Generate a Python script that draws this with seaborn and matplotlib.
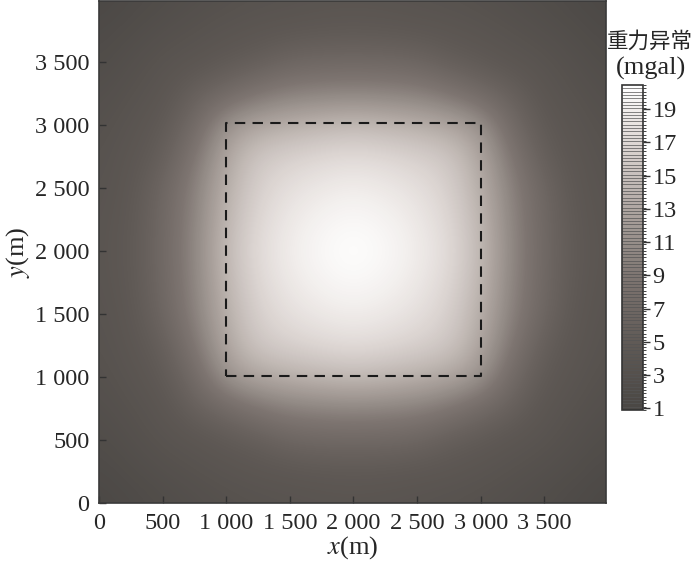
import numpy as np
import matplotlib
matplotlib.use("Agg")
import matplotlib.pyplot as plt
from matplotlib.colors import LinearSegmentedColormap, BoundaryNorm, Normalize
from matplotlib.cm import ScalarMappable
import seaborn as sns

# grid node coordinates (m), 250 m spacing
x_nodes = [0, 250, 500, 750, 1000, 1250, 1500, 1750, 2000,
           2250, 2500, 2750, 3000, 3250, 3500, 3750, 4000]
y_nodes = [0, 250, 500, 750, 1000, 1250, 1500, 1750, 2000,
           2250, 2500, 2750, 3000, 3250, 3500, 3750, 4000]

# gravity anomaly (mgal) read at grid nodes; one list per y row (bottom to top)
g_y0000 = [1.2, 1.7, 2.2, 2.7, 3.1, 3.4, 3.6, 3.8, 3.9, 3.8, 3.6, 3.4, 3.1, 2.7, 2.2, 1.7, 1.2]
g_y0250 = [1.7, 2.3, 2.9, 3.4, 3.9, 4.3, 4.5, 4.7, 4.8, 4.7, 4.5, 4.3, 3.9, 3.4, 2.9, 2.3, 1.7]
g_y0500 = [2.2, 2.9, 3.7, 4.2, 4.9, 5.5, 6.6, 6.9, 7.0, 6.9, 6.6, 5.5, 4.9, 4.2, 3.7, 2.9, 2.2]
g_y0750 = [2.7, 3.4, 4.2, 5.9, 7.2, 8.9, 9.9, 10.2, 10.4, 10.2, 9.9, 8.9, 7.2, 5.9, 4.2, 3.4, 2.7]
g_y1000 = [3.1, 3.9, 4.9, 7.2, 11.6, 13.0, 13.7, 14.2, 14.5, 14.2, 13.7, 13.0, 11.6, 7.2, 4.9, 3.9, 3.1]
g_y1250 = [3.4, 4.3, 5.5, 8.9, 13.0, 15.6, 16.4, 17.0, 17.4, 17.0, 16.4, 15.6, 13.0, 8.9, 5.5, 4.3, 3.4]
g_y1500 = [3.6, 4.5, 6.6, 9.9, 13.7, 16.4, 17.8, 18.6, 19.0, 18.6, 17.8, 16.4, 13.7, 9.9, 6.6, 4.5, 3.6]
g_y1750 = [3.8, 4.7, 6.9, 10.2, 14.2, 17.0, 18.6, 19.5, 19.9, 19.5, 18.6, 17.0, 14.2, 10.2, 6.9, 4.7, 3.8]
g_y2000 = [3.9, 4.8, 7.0, 10.4, 14.5, 17.4, 19.0, 19.9, 20.4, 19.9, 19.0, 17.4, 14.5, 10.4, 7.0, 4.8, 3.9]
g_y2250 = [3.8, 4.7, 6.9, 10.2, 14.2, 17.0, 18.6, 19.5, 19.9, 19.5, 18.6, 17.0, 14.2, 10.2, 6.9, 4.7, 3.8]
g_y2500 = [3.6, 4.5, 6.6, 9.9, 13.7, 16.4, 17.8, 18.6, 19.0, 18.6, 17.8, 16.4, 13.7, 9.9, 6.6, 4.5, 3.6]
g_y2750 = [3.4, 4.3, 5.5, 8.9, 13.0, 15.6, 16.4, 17.0, 17.4, 17.0, 16.4, 15.6, 13.0, 8.9, 5.5, 4.3, 3.4]
g_y3000 = [3.1, 3.9, 4.9, 7.2, 11.6, 13.0, 13.7, 14.2, 14.5, 14.2, 13.7, 13.0, 11.6, 7.2, 4.9, 3.9, 3.1]
g_y3250 = [2.7, 3.4, 4.2, 5.9, 7.2, 8.9, 9.9, 10.2, 10.4, 10.2, 9.9, 8.9, 7.2, 5.9, 4.2, 3.4, 2.7]
g_y3500 = [2.2, 2.9, 3.7, 4.2, 4.9, 5.5, 6.6, 6.9, 7.0, 6.9, 6.6, 5.5, 4.9, 4.2, 3.7, 2.9, 2.2]
g_y3750 = [1.7, 2.3, 2.9, 3.4, 3.9, 4.3, 4.5, 4.7, 4.8, 4.7, 4.5, 4.3, 3.9, 3.4, 2.9, 2.3, 1.7]
g_y4000 = [1.2, 1.7, 2.2, 2.7, 3.1, 3.4, 3.6, 3.8, 3.9, 3.8, 3.6, 3.4, 3.1, 2.7, 2.2, 1.7, 1.2]

# dashed outline of the source body
box_x = [1000, 3000, 3000, 1000, 1000]
box_y = [1010, 1010, 3015, 3015, 1010]

x_ticks = [0, 500, 1000, 1500, 2000, 2500, 3000, 3500]
x_ticklabels = ["0", "500", "1 000", "1 500", "2 000", "2 500", "3 000", "3 500"]
y_ticks = [0, 500, 1000, 1500, 2000, 2500, 3000, 3500]
y_ticklabels = ["0", "500", "1 000", "1 500", "2 000", "2 500", "3 000", "3 500"]
cb_ticks = [1, 3, 5, 7, 9, 11, 13, 15, 17, 19]

sns.set_style("ticks")
plt.rcParams["font.family"] = ["Liberation Serif", "Noto Sans CJK SC"]
plt.rcParams["mathtext.fontset"] = "stix"

G = np.array([g_y0000, g_y0250, g_y0500, g_y0750, g_y1000, g_y1250, g_y1500, g_y1750,
              g_y2000, g_y2250, g_y2500, g_y2750, g_y3000, g_y3250, g_y3500, g_y3750,
              g_y4000])

vmin, vmax = 0.9, 20.45
cmap = LinearSegmentedColormap.from_list(
    "grav",
    [(0.0, "#4a4744"), (0.2, "#5f5955"), (0.41, "#7e7571"), (0.51, "#958d88"),
     (0.61, "#ada49f"), (0.71, "#c5bdb9"), (0.82, "#ddd6d3"), (0.92, "#f0ecea"),
     (1.0, "#ffffff")])
bounds = np.linspace(vmin, vmax, 99)

fig = plt.figure(figsize=(7.0, 5.64), dpi=100)
ax = fig.add_axes([99 / 700, 61 / 564, 507 / 700, 502 / 564])

dx = (x_nodes[1] - x_nodes[0]) / 2
dy = (y_nodes[1] - y_nodes[0]) / 2
im = ax.imshow(G, origin="lower", cmap=cmap, norm=Normalize(vmin, vmax),
               interpolation="bicubic",
               extent=(x_nodes[0] - dx, x_nodes[-1] + dx, y_nodes[0] - dy, y_nodes[-1] + dy),
               aspect="auto")
ax.plot(box_x, box_y, color="#1a1a1a", lw=1.5, ls=(0, (5, 3.5)))

ax.set_xlim(0, 3985)
ax.set_ylim(0, 3980)
ax.set_xticks(x_ticks)
ax.set_xticklabels(x_ticklabels)
ax.set_yticks(y_ticks)
ax.set_yticklabels(y_ticklabels)
ax.tick_params(direction="in", length=5, width=1, color="#333333", labelsize=17.5,
               pad=7, top=False, right=False)
for s in ax.spines.values():
    s.set_color("#3a3a3a")
    s.set_linewidth(1.2)
ax.set_xlabel("$x$(m)", fontsize=19, labelpad=0)
ax.set_ylabel("$y$(m)", fontsize=19, labelpad=2)

cax = fig.add_axes([622 / 700, 154 / 564, 21 / 700, 325 / 564])
sm = ScalarMappable(norm=BoundaryNorm(bounds, cmap.N), cmap=cmap)
cb = fig.colorbar(sm, cax=cax, drawedges=True, ticks=cb_ticks)
cb.dividers.set_color("#555555")
cb.dividers.set_linewidth(0.5)
cb.outline.set_edgecolor("#333333")
cb.outline.set_linewidth(1.2)
cb.ax.tick_params(direction="out", length=5, width=1, labelsize=17.5, pad=2, color="#333333")
cb.ax.set_ylim(vmin, vmax)
fig.text(650 / 700, 1 - 42 / 564, "重力异常", ha="center", va="center", fontsize=15.5)
fig.text(651 / 700, 1 - 68 / 564, "(mgal)", ha="center", va="center", fontsize=19)

fig.savefig("out.png", dpi=100)
